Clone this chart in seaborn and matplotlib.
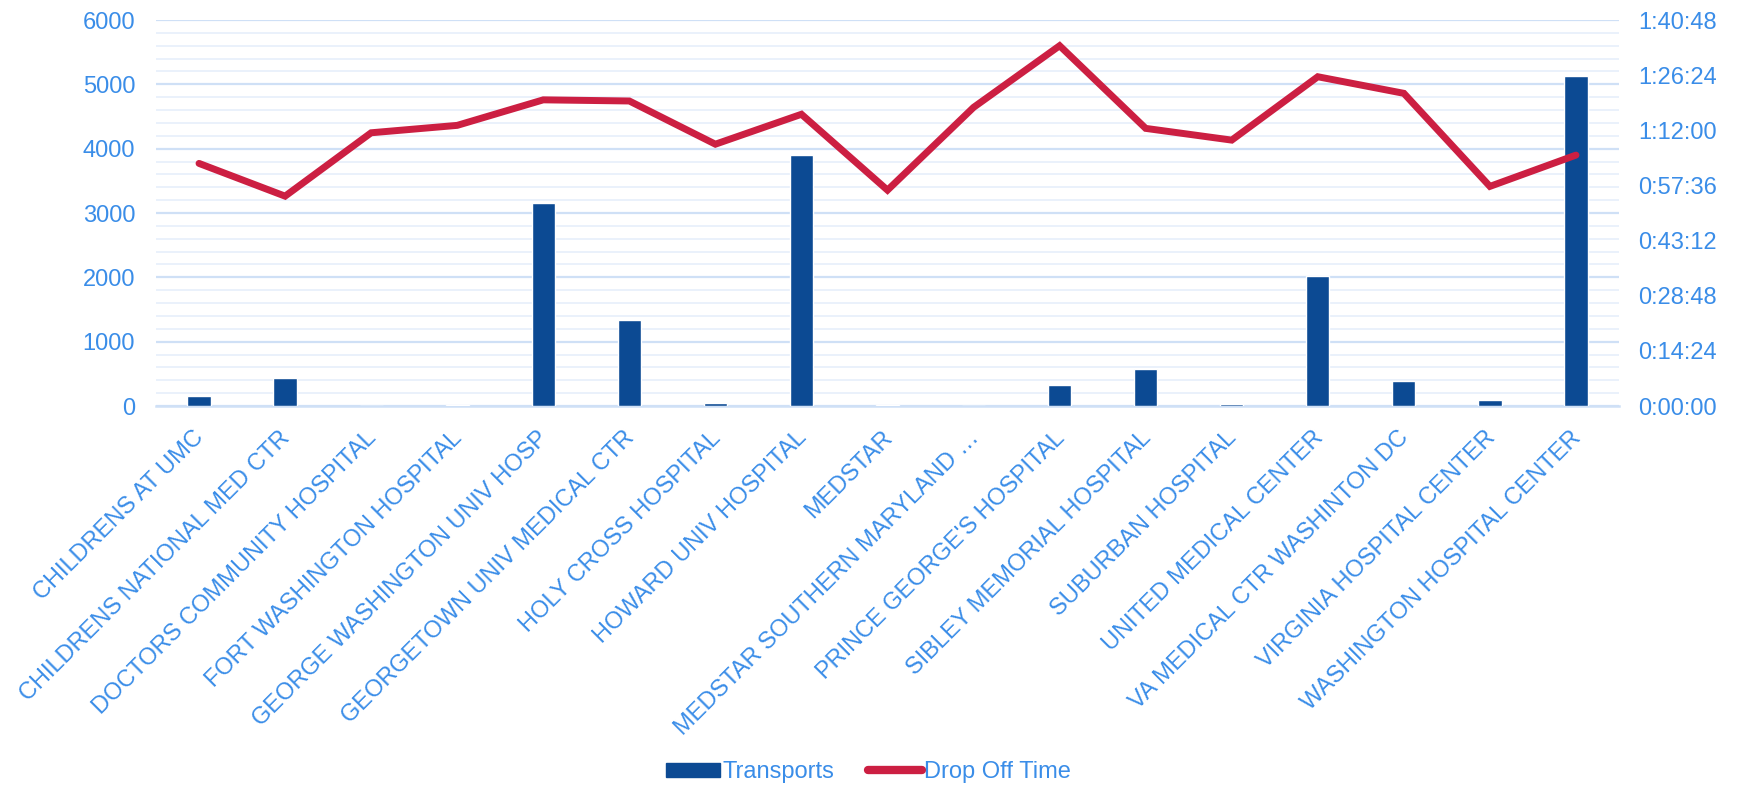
import numpy as np
import pandas as pd
import matplotlib
matplotlib.use("Agg")
import matplotlib.pyplot as plt
import seaborn as sns
from matplotlib.ticker import MultipleLocator, FuncFormatter
from matplotlib.patches import Patch
from matplotlib.lines import Line2D

categories = [
    "CHILDRENS AT UMC", "CHILDRENS NATIONAL MED CTR", "DOCTORS COMMUNITY HOSPITAL",
    "FORT WASHINGTON HOSPITAL", "GEORGE WASHINGTON UNIV HOSP", "GEORGETOWN UNIV MEDICAL CTR",
    "HOLY CROSS HOSPITAL", "HOWARD UNIV HOSPITAL", "MEDSTAR", "MEDSTAR SOUTHERN MARYLAND …",
    "PRINCE GEORGE'S HOSPITAL", "SIBLEY MEMORIAL HOSPITAL", "SUBURBAN HOSPITAL",
    "UNITED MEDICAL CENTER", "VA MEDICAL CTR WASHINTON DC", "VIRGINIA HOSPITAL CENTER",
    "WASHINGTON HOSPITAL CENTER",
]
transports = [155, 435, 5, 20, 3160, 1330, 50, 3900, 15, 3, 330, 575, 25, 2020, 385, 90, 5130]
# drop off time in seconds
drop_off_seconds = [3801, 3288, 4281, 4397, 4797, 4779, 4102, 4571, 3382, 4679,
                    5645, 4350, 4166, 5159, 4899, 3441, 3931]

BAR = "#0C4A93"
LINE = "#CC1F42"
TXT = "#3A8DE8"
GRID_MAJ = "#CFE0F6"
GRID_MIN = "#EAF1FB"

df = pd.DataFrame({"Hospital": categories, "Transports": transports,
                   "DropOff": drop_off_seconds, "pos": np.arange(len(categories))})

sns.set_theme(style="white")
plt.rcParams["font.family"] = ["Liberation Sans", "DejaVu Sans"]

fig = plt.figure(figsize=(17.37, 7.87), dpi=100)
ax = fig.add_axes([156 / 1737, 1 - 406 / 787, (1619 - 156) / 1737, (406 - 20) / 787])

sns.barplot(data=df, x="Hospital", y="Transports", color=BAR, width=0.27,
            saturation=1, ax=ax, zorder=3)
ax.set_xlim(-0.5, len(categories) - 0.5)
ax.set_ylim(0, 6000)
ax.yaxis.set_major_locator(MultipleLocator(1000))
ax.yaxis.set_minor_locator(MultipleLocator(200))
ax.grid(which="major", axis="y", color=GRID_MAJ, lw=1.6, zorder=0)
ax.grid(which="minor", axis="y", color=GRID_MIN, lw=1.4, zorder=0)
ax.set_axisbelow(True)
ax.set_xlabel("")
ax.set_ylabel("")
for s in ["left", "right", "top"]:
    ax.spines[s].set_visible(False)
ax.spines["bottom"].set_color(GRID_MAJ)
ax.spines["bottom"].set_linewidth(1.8)

# label anchors sit a touch left of the category centres, as in the reference
label_shift = 0.07
ax.set_xticks(np.arange(len(categories)) - label_shift)
ax.set_xticklabels(categories, rotation=45, ha="right", rotation_mode="anchor",
                   fontsize=17, color=TXT)
ax.set_xticks(np.arange(-0.5, len(categories)), minor=True)
ax.tick_params(axis="x", which="major", length=0, pad=15)
ax.tick_params(axis="x", which="minor", length=8, width=1.5, color=GRID_MAJ)
ax.tick_params(axis="y", which="both", length=0, labelsize=17, labelcolor=TXT, pad=15)

ax2 = ax.twinx()
sns.lineplot(data=df, x="pos", y="DropOff", color=LINE, lw=5, ax=ax2,
             sort=False, solid_joinstyle="miter", solid_capstyle="round")
ax2.set_ylim(0, 6048)
ax2.yaxis.set_major_locator(MultipleLocator(864))

def hms(v, _):
    v = int(round(v))
    return f"{v // 3600}:{(v % 3600) // 60:02d}:{v % 60:02d}"

ax2.yaxis.set_major_formatter(FuncFormatter(hms))
ax2.tick_params(axis="y", length=0, labelsize=17, labelcolor=TXT, pad=14)
ax2.set_ylabel("")
ax2.set_xlabel("")
for s in ["left", "right", "top", "bottom"]:
    ax2.spines[s].set_visible(False)
ax2.set_xlim(-0.5, len(categories) - 0.5)

handles = [Patch(facecolor=BAR, edgecolor=BAR),
           Line2D([0], [0], color=LINE, lw=6, solid_capstyle="round")]
leg = fig.legend(handles, ["Transports", "Drop Off Time"], loc="center",
                 bbox_to_anchor=(0.5, 1 - 772 / 787), ncol=2, frameon=False,
                 fontsize=17, handlelength=2.3, handleheight=0.55,
                 columnspacing=1.4, handletextpad=0.1)
for t in leg.get_texts():
    t.set_color(TXT)

fig.savefig("out.png", dpi=100)
